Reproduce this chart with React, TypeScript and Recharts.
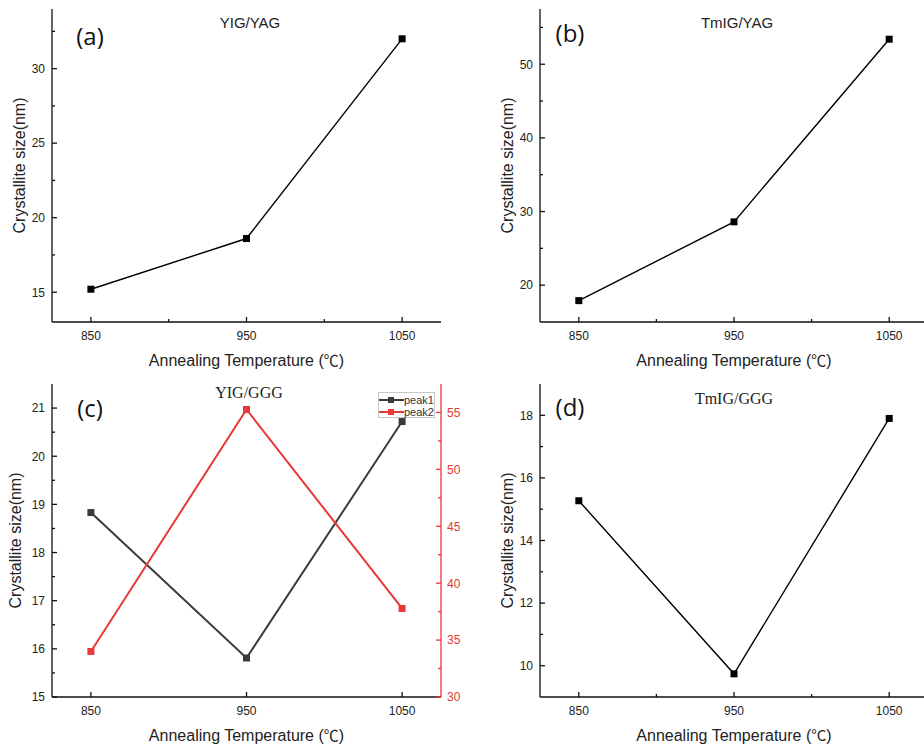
import React from 'react';
import { LineChart, Line, XAxis, YAxis, Legend } from 'recharts';

// ---------- data ----------
const temps = [850, 950, 1050];
const yigYagSize = [15.2, 18.6, 32.0];
const tmigYagSize = [17.9, 28.6, 53.4];
const yigGggPeak1 = [18.83, 15.81, 20.72];
const yigGggPeak2 = [34.0, 55.26, 37.78];
const tmigGggSize = [15.27, 9.74, 17.9];

// ---------- axes ----------
const xDomain = [825, 1075];
const xMajorTicks = [850, 950, 1050];
const xMinorTicks = [900, 1000];

const aDomain = [13, 34];
const aMajor = [15, 20, 25, 30];
const aMinor = [17.5, 22.5, 27.5, 32.5];

const bDomain = [15, 57.5];
const bMajor = [20, 30, 40, 50];
const bMinor = [25, 35, 45, 55];

const cLeftDomain = [15, 21.5];
const cLeftMajor = [15, 16, 17, 18, 19, 20, 21];
const cLeftMinor = [15.5, 16.5, 17.5, 18.5, 19.5, 20.5];
const cRightDomain = [30, 57.5];
const cRightMajor = [30, 35, 40, 45, 50, 55];
const cRightMinor = [32.5, 37.5, 42.5, 47.5, 52.5];

const dDomain = [9, 19];
const dMajor = [10, 12, 14, 16, 18];
const dMinor = [11, 13, 15, 17];

const seriesC = [
  { key: 'peak1', name: 'peak1', color: '#3c3c3c', axis: 'left' },
  { key: 'peak2', name: 'peak2', color: '#e8383a', axis: 'right' },
];

// ---------- styles ----------
const SANS = "'Liberation Sans', Arial, sans-serif";
const SERIF = "'Liberation Serif', 'Times New Roman', serif";
const CJK = "'Noto Sans CJK SC', 'Liberation Serif', serif";
const TAG = "'Open Sans', 'Liberation Sans', sans-serif";
const AXIS = '#111';
const TXT = '#222';
const RED = '#e8383a';

const makeTick = (side: 'left' | 'right' | 'bottom', major: number[], color: string, textColor: string) =>
  (props: any) => {
    const { x, y, payload } = props;
    const v = payload.value;
    const isMajor = major.includes(v);
    const len = isMajor ? 5 : 3;
    if (side === 'bottom') {
      return (
        <g>
          <line x1={x} y1={y} x2={x} y2={y - len} stroke={color} strokeWidth={1.3} />
          {isMajor && (
            <text x={x} y={y + 9} dy="0.72em" textAnchor="middle" fontSize={12} fontFamily={SANS} fill={textColor}>
              {v}
            </text>
          )}
        </g>
      );
    }
    if (side === 'left') {
      return (
        <g>
          <line x1={x} y1={y} x2={x + len} y2={y} stroke={color} strokeWidth={1.3} />
          {isMajor && (
            <text x={x - 7} y={y} dy="0.36em" textAnchor="end" fontSize={12} fontFamily={SANS} fill={textColor}>
              {v}
            </text>
          )}
        </g>
      );
    }
    return (
      <g>
        <line x1={x} y1={y} x2={x - len} y2={y} stroke={color} strokeWidth={1.3} />
        {isMajor && (
          <text x={x + 6} y={y} dy="0.36em" textAnchor="start" fontSize={12} fontFamily={SANS} fill={textColor}>
            {v}
          </text>
        )}
      </g>
    );
  };

const squareDot = (color: string, size: number) => (props: any) => {
  const { cx, cy, index } = props;
  if (cx == null || cy == null) return <g key={index} />;
  return <rect key={index} x={cx - size / 2} y={cy - size / 2} width={size} height={size} fill={color} />;
};

const YTitle = (props: any) => {
  const { viewBox, left, text } = props;
  const cx = viewBox.x + left;
  const cy = viewBox.y + viewBox.height / 2;
  return (
    <text x={cx} y={cy} dy="0.36em" transform={`rotate(-90 ${cx} ${cy})`} textAnchor="middle" fontSize={16} fontFamily={SANS} fill={TXT}>
      {text}
    </text>
  );
};

const XTitle = (props: any) => {
  const { viewBox, text, unit } = props;
  const cx = viewBox.x + viewBox.width / 2;
  const cy = viewBox.y + 38;
  return (
    <text x={cx} y={cy} dy="0.36em" textAnchor="middle" fontSize={16} fontFamily={SANS} fill={TXT}>
      {text}
      <tspan fontFamily={CJK} fontSize={15}>{unit}</tspan>
      )
    </text>
  );
};

const Overlay = ({ x, y, text, font, size, color = '#111' }: any) => (
  <div
    style={{
      position: 'absolute',
      left: x,
      top: y,
      transform: 'translate(-50%, -50%)',
      fontFamily: font,
      fontSize: size,
      lineHeight: 1,
      whiteSpace: 'nowrap',
      color,
    }}
  >
    {text}
  </div>
);

const LegendBox = () => (
  <div
    style={{
      border: '1px solid #c8c8c8',
      background: '#fff',
      width: 57,
      height: 26,
      boxSizing: 'border-box',
      paddingTop: 1,
    }}
  >
    {seriesC.map((s) => (
      <div key={s.key} style={{ display: 'flex', alignItems: 'center', height: 12 }}>
        <svg width={25} height={12} style={{ display: 'block' }}>
          <line x1={0} y1={6} x2={25} y2={6} stroke={s.color} strokeWidth={2} />
          <rect x={9} y={3} width={6} height={6} fill={s.color} />
        </svg>
        <span style={{ fontFamily: SANS, fontSize: 11, color: '#333', lineHeight: '12px' }}>{s.name}</span>
      </div>
    ))}
  </div>
);

type SingleProps = {
  values: number[];
  yDomain: number[];
  yMajor: number[];
  yMinor: number[];
  width: number;
  yAxisWidth: number;
  yTitleLeft: number;
  unit: string;
};

const SinglePanel = ({ values, yDomain, yMajor, yMinor, width, yAxisWidth, yTitleLeft, unit }: SingleProps) => {
  const data = temps.map((t, i) => ({ temp: t, size: values[i] }));
  return (
    <LineChart width={width} height={375} data={data} margin={{ top: 9, right: 21, bottom: 0, left: 0 }}>
      <XAxis
        dataKey="temp"
        type="number"
        domain={xDomain}
        ticks={[...xMajorTicks, ...xMinorTicks]}
        interval={0}
        allowDataOverflow
        height={53}
        tickSize={0}
        tickMargin={0}
        tickLine={false}
        axisLine={{ stroke: AXIS, strokeWidth: 1.3 }}
        tick={makeTick('bottom', xMajorTicks, AXIS, TXT)}
        label={{ content: (p: any) => <XTitle {...p} text="Annealing Temperature (" unit={unit} /> }}
      />
      <XAxis
        xAxisId="border"
        orientation="top"
        type="number"
        domain={xDomain}
        height={0}
        tick={false}
        tickLine={false}
        axisLine={{ stroke: AXIS, strokeWidth: 1.3 }}
      />
      <YAxis
        type="number"
        domain={yDomain}
        ticks={[...yMajor, ...yMinor]}
        interval={0}
        allowDataOverflow
        width={yAxisWidth}
        tickSize={0}
        tickMargin={0}
        tickLine={false}
        axisLine={{ stroke: AXIS, strokeWidth: 1.3 }}
        tick={makeTick('left', yMajor, AXIS, TXT)}
        label={{ content: (p: any) => <YTitle {...p} left={yTitleLeft} text="Crystallite size(nm)" /> }}
      />
      <YAxis
        yAxisId="border"
        orientation="right"
        width={0}
        domain={[0, 1]}
        tick={false}
        tickLine={false}
        axisLine={{ stroke: AXIS, strokeWidth: 1.3 }}
      />
      <Line
        dataKey="size"
        type="linear"
        stroke="#000"
        strokeWidth={1.4}
        dot={squareDot('#000', 7)}
        activeDot={false}
        isAnimationActive={false}
      />
    </LineChart>
  );
};

const PanelC = () => {
  const data = temps.map((t, i) => ({ temp: t, peak1: yigGggPeak1[i], peak2: yigGggPeak2[i] }));
  return (
    <LineChart width={462} height={374} data={data} margin={{ top: 9, right: 0, bottom: 0, left: 0 }}>
      <XAxis
        dataKey="temp"
        type="number"
        domain={xDomain}
        ticks={xMajorTicks}
        interval={0}
        allowDataOverflow
        height={52}
        tickSize={0}
        tickMargin={0}
        tickLine={false}
        axisLine={{ stroke: AXIS, strokeWidth: 1.3 }}
        tick={makeTick('bottom', xMajorTicks, AXIS, TXT)}
        label={{ content: (p: any) => <XTitle {...p} text="Annealing Temperature (" unit="℃" /> }}
      />
      <XAxis
        xAxisId="border"
        orientation="top"
        type="number"
        domain={xDomain}
        height={0}
        tick={false}
        tickLine={false}
        axisLine={{ stroke: AXIS, strokeWidth: 1.3 }}
      />
      <YAxis
        yAxisId="left"
        type="number"
        domain={cLeftDomain}
        ticks={[...cLeftMajor, ...cLeftMinor]}
        interval={0}
        allowDataOverflow
        width={52}
        tickSize={0}
        tickMargin={0}
        tickLine={false}
        axisLine={{ stroke: AXIS, strokeWidth: 1.3 }}
        tick={makeTick('left', cLeftMajor, AXIS, TXT)}
        label={{ content: (p: any) => <YTitle {...p} left={15} text="Crystallite size(nm)" /> }}
      />
      <YAxis
        yAxisId="right"
        orientation="right"
        type="number"
        domain={cRightDomain}
        ticks={[...cRightMajor, ...cRightMinor]}
        interval={0}
        allowDataOverflow
        width={21}
        tickSize={0}
        tickMargin={0}
        tickLine={false}
        axisLine={{ stroke: RED, strokeWidth: 1.3 }}
        tick={makeTick('right', cRightMajor, RED, RED)}
      />
      <Legend
        layout="vertical"
        align="center"
        verticalAlign="middle"
        content={() => <LegendBox />}
        wrapperStyle={{ left: 378, top: 17, width: 57, height: 26, margin: 0, padding: 0 }}
      />
      {seriesC.map((s) => (
        <Line
          key={s.key}
          yAxisId={s.axis}
          dataKey={s.key}
          name={s.name}
          type="linear"
          stroke={s.color}
          strokeWidth={2}
          dot={squareDot(s.color, 7)}
          activeDot={false}
          isAnimationActive={false}
        />
      ))}
    </LineChart>
  );
};

export default function App() {
  return (
    <div
      style={{
        position: 'absolute',
        left: 0,
        top: 0,
        width: 924,
        height: 749,
        overflow: 'hidden',
        background: '#fff',
      }}
    >
      <div style={{ position: 'absolute', left: 0, top: 0 }}>
        <SinglePanel
          values={yigYagSize}
          yDomain={aDomain}
          yMajor={aMajor}
          yMinor={aMinor}
          width={462}
          yAxisWidth={52}
          yTitleLeft={19}
          unit="℃"
        />
      </div>
      <div style={{ position: 'absolute', left: 462, top: 0 }}>
        <SinglePanel
          values={tmigYagSize}
          yDomain={bDomain}
          yMajor={bMajor}
          yMinor={bMinor}
          width={487}
          yAxisWidth={78}
          yTitleLeft={45}
          unit="℃"
        />
      </div>
      <div style={{ position: 'absolute', left: 0, top: 375 }}>
        <PanelC />
      </div>
      <div style={{ position: 'absolute', left: 462, top: 375 }}>
        <SinglePanel
          values={tmigGggSize}
          yDomain={dDomain}
          yMajor={dMajor}
          yMinor={dMinor}
          width={487}
          yAxisWidth={78}
          yTitleLeft={45}
          unit="°C"
        />
      </div>

      <Overlay x={90} y={36} text="(a)" font={TAG} size={24} />
      <Overlay x={250} y={22} text="YIG/YAG" font={SANS} size={15} color={TXT} />
      <Overlay x={570} y={33} text="(b)" font={TAG} size={24} />
      <Overlay x={737} y={22} text="TmIG/YAG" font={SANS} size={15} color={TXT} />
      <Overlay x={90} y={408} text="(c)" font={TAG} size={24} />
      <Overlay x={249} y={393} text="YIG/GGG" font={SERIF} size={16} color={TXT} />
      <Overlay x={570} y={407} text="(d)" font={TAG} size={24} />
      <Overlay x={734} y={399} text="TmIG/GGG" font={SERIF} size={16} color={TXT} />
    </div>
  );
}
